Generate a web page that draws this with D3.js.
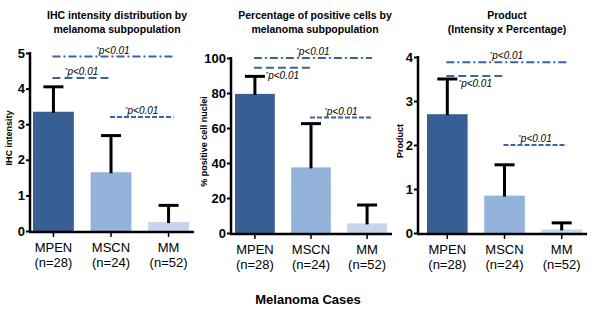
<!DOCTYPE html>
<html>
<head>
<meta charset="utf-8">
<script src="https://cdn.jsdelivr.net/npm/d3@7"></script>
<style>
body{margin:0;background:#fff}
text{font-family:Arial,"Liberation Sans",sans-serif}
</style>
</head>
<body>
<svg id="chart" width="600" height="314"></svg>
<script>
// ---- data ----
var groups = ["MPEN","MSCN","MM"]
var nLabels = ["(n=28)","(n=24)","(n=52)"]
var barColors = ["#375f93","#94b3da","#c5d5eb"]

var intensityMean = [3.35, 1.65, 0.25]
var intensitySD   = [0.70, 1.03, 0.47]
var intensityTicks = [0,1,2,3,4,5]

var percentMean = [79.5, 37.5, 5.5]
var percentSD   = [10.0, 25.0, 10.5]
var percentTicks = [0,20,40,60,80,100]

var productMean = [2.70, 0.85, 0.08]
var productSD   = [0.80, 0.70, 0.15]
var productTicks = [0,1,2,3,4]

// significance brackets: [from group, to group, level, style, label side]
var intensitySig = [[0,2,4.9,"dashdot","above"],[0,1,4.3,"dash","above"],[1,2,3.2,"dashfine","above"]]
var percentSig   = [[0,2,100,"dashdot","above"],[0,1,94.5,"dash","below"],[1,2,66,"dashfine","above"]]
var productSig   = [[0,2,3.88,"dashdot","above"],[0,1,3.57,"dash","below"],[1,2,2.0,"dashfine","above"]]

var svg = d3.select("#chart")

var panels = [
  {title:["IHC intensity distribution by","melanoma subpopulation"], titleX:117, ylab:"IHC intensity", ylabX:9,
   axisX:30, bars:[33,189], top:53, bottom:231, max:5, mean:intensityMean, sd:intensitySD, ticks:intensityTicks, sig:intensitySig},
  {title:["Percentage of positive cells by","melanoma subpopulation"], titleX:315, ylab:"% positive cell nuclei", ylabX:204,
   axisX:231, bars:[235,387], top:58, bottom:233, max:100, mean:percentMean, sd:percentSD, ticks:percentTicks, sig:percentSig},
  {title:["Product","(Intensity x Percentage)"], titleX:507, ylab:"Product", ylabX:400,
   axisX:418, bars:[427,582], top:57, bottom:233, max:4, mean:productMean, sd:productSD, ticks:productTicks, sig:productSig}
]

var dashes = {dashdot:"8,3,2,3", dash:"8,4", dashfine:"5,2"}

panels.forEach(function(p){
  var g = svg.append("g")
  var y = d3.scaleLinear().domain([0,p.max]).range([p.bottom,p.top])
  var x = d3.scaleBand().domain(groups).range(p.bars).paddingInner(0.29).paddingOuter(0)

  // title
  g.selectAll(".title").data(p.title).enter().append("text")
    .attr("x",p.titleX).attr("y",function(d,i){return 19+i*14})
    .attr("text-anchor","middle").style("font-size","10.5px").style("font-weight","bold")
    .text(function(d){return d})

  // bars
  g.selectAll(".bar").data(groups).enter().append("rect")
    .attr("x",function(d){return x(d)})
    .attr("y",function(d,i){return y(p.mean[i])})
    .attr("width",x.bandwidth())
    .attr("height",function(d,i){return y(0)-y(p.mean[i])})
    .attr("fill",function(d,i){return barColors[i]})

  // error bars (upper only)
  groups.forEach(function(d,i){
    var cx = x(d)+x.bandwidth()/2
    var top = y(p.mean[i]+p.sd[i])
    g.append("line").attr("x1",cx).attr("x2",cx).attr("y1",y(p.mean[i])+1).attr("y2",top)
      .attr("stroke","#000").attr("stroke-width",3)
    g.append("line").attr("x1",cx-10).attr("x2",cx+10).attr("y1",top).attr("y2",top)
      .attr("stroke","#000").attr("stroke-width",3)
  })

  // y axis
  var ya = g.append("g").attr("transform","translate("+p.axisX+",0)")
    .call(d3.axisLeft(y).tickValues(p.ticks).tickFormat(d3.format("d")).tickSize(4).tickPadding(1).tickSizeOuter(0))
  ya.select(".domain").attr("stroke-width",2.5).attr("d","M0,"+(p.bottom+1)+"V"+(p.top-1))
  ya.selectAll(".tick line").attr("stroke-width",2)
  ya.selectAll(".tick text").style("font-size","13px").style("font-weight","bold")
    .style("font-family","Arial,'Liberation Sans',sans-serif").attr("fill","#000")

  // x axis
  var xa = g.append("g").attr("transform","translate(0,"+(p.bottom+1)+")")
  xa.append("line").attr("x1",p.axisX-1).attr("x2",p.bars[1]+5).attr("y1",0).attr("y2",0)
    .attr("stroke","#000").attr("stroke-width",2.5)
  groups.forEach(function(d,i){
    var cx = x(d)+x.bandwidth()/2
    xa.append("line").attr("x1",cx).attr("x2",cx).attr("y1",0).attr("y2",5).attr("stroke","#000").attr("stroke-width",1.5)
    xa.append("text").attr("x",cx).attr("y",20).attr("text-anchor","middle").style("font-size","13px").text(d)
    xa.append("text").attr("x",cx).attr("y",35).attr("text-anchor","middle").style("font-size","13px").text(nLabels[i])
  })

  // y label
  g.append("text")
    .attr("transform","translate("+(p.ylabX+3)+","+((p.top+p.bottom)/2-4)+") rotate(-90)")
    .attr("text-anchor","middle").style("font-size","9px").style("font-weight","bold")
    .text(p.ylab)

  // significance lines
  p.sig.forEach(function(s){
    var x1 = x(groups[s[0]])+x.bandwidth()/2 - 1
    var x2 = x(groups[s[1]])+x.bandwidth()/2 + (s[1]==2 ? 5 : 0)
    var ly = y(s[2])
    g.append("line").attr("x1",x1).attr("x2",x2).attr("y1",ly).attr("y2",ly)
      .attr("stroke","#3b64a0").attr("stroke-width",2).attr("stroke-dasharray",dashes[s[3]])
    var t = g.append("text").attr("x",(x1+x2)/2).attr("y",s[4]=="above" ? ly-3 : ly+11)
      .attr("text-anchor","middle").style("font-size","10px").style("font-style","italic")
    t.append("tspan").attr("dy","-3").style("font-size","6px").text("*")
    t.append("tspan").attr("dy","3").text("p<0.01")
  })
})

svg.append("text").attr("x",308).attr("y",304).attr("text-anchor","middle")
  .style("font-size","13px").style("font-weight","bold").text("Melanoma Cases")
</script>
</body>
</html>
